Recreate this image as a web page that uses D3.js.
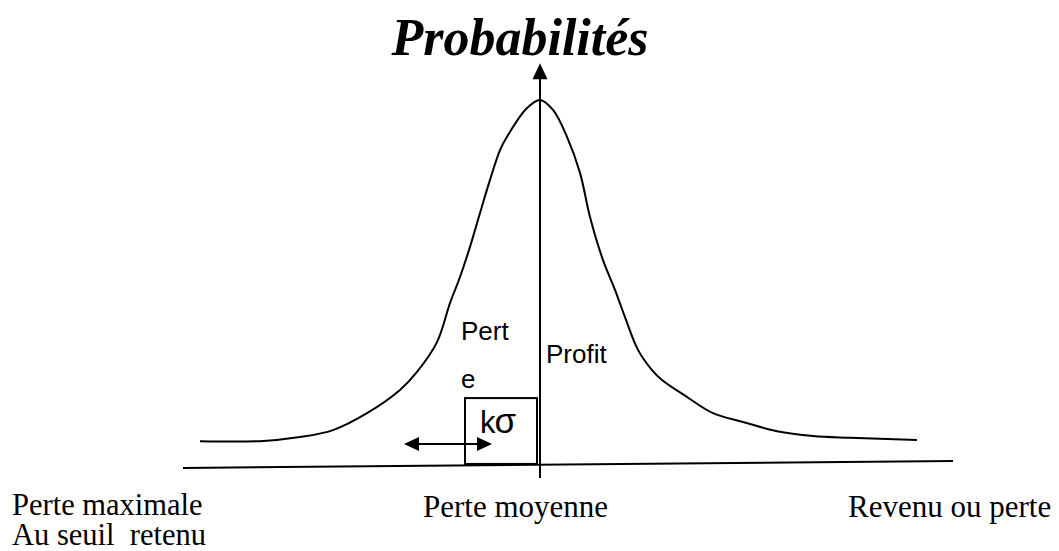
<!DOCTYPE html>
<html>
<head>
<meta charset="utf-8">
<script src="https://cdn.jsdelivr.net/npm/d3@7"></script>
<style>
  html, body { margin: 0; padding: 0; background: #fff; }
  svg { display: block; }
</style>
</head>
<body>
<svg id="chart" width="1059" height="551"></svg>
<script>
// ---- data (revenue units, relative probability) ----
const revenue = [-34, -28, -24, -20.7, -17.3, -14, -12.3, -10.3, -9, -8, -7, -6, -5, -4, -3.3, -1.3, 0,
                 1.3, 2.7, 4, 5, 6.3, 7.5, 8.5, 9.8, 11.2, 12.2, 14.7, 17.3, 20.3, 23.7, 27.3, 31, 37.7];
const probability = [0.073, 0.073, 0.084, 0.103, 0.149, 0.212, 0.261, 0.342, 0.448, 0.519, 0.601, 0.693, 0.783, 0.864, 0.9, 0.978, 1.0,
                     0.973, 0.9, 0.802, 0.682, 0.565, 0.484, 0.41, 0.321, 0.266, 0.239, 0.193, 0.149, 0.125, 0.1, 0.087, 0.082, 0.076];
const axisRevenue = [-35.7, 41.3];
const axisProb = [0, 0.019];
const yAxisProb = [-0.027, 1.1];
const arrowRevenue = [-13.6, -4.8];
const arrowProb = 0.065;
const boxRevenue = [-7.5, -0.3];
const boxProb = [0.011, 0.19];

const titleText = "Probabilités";
const lossLabel = ["Pert", "e"];
const profitLabel = "Profit";
const sigmaLabel = ["k", "σ"];
const leftLabels = ["Perte maximale", "Au seuil  retenu"];
const centerLabel = "Perte moyenne";
const rightLabel = "Revenu ou perte";

// ---- scales ----
const svg = d3.select("#chart");
const x = d3.scaleLinear().domain([-36, 42]).range([180, 960]);
const y = d3.scaleLinear().domain([0, 1]).range([468, 100]);

// horizontal axis (slightly slanted)
svg.append("line")
  .attr("x1", x(axisRevenue[0])).attr("y1", y(axisProb[0]))
  .attr("x2", x(axisRevenue[1])).attr("y2", y(axisProb[1]))
  .attr("stroke", "#000").attr("stroke-width", 2);

// vertical axis with arrow
const yTop = y(yAxisProb[1]);
svg.append("line")
  .attr("x1", x(0)).attr("y1", y(yAxisProb[0]))
  .attr("x2", x(0)).attr("y2", yTop + 10)
  .attr("stroke", "#000").attr("stroke-width", 2);
svg.append("path")
  .attr("d", d3.line()([[x(0), yTop], [x(0) - 7.5, yTop + 16], [x(0) + 7.5, yTop + 16]]) + "Z")
  .attr("fill", "#000");

// distribution curve
const pts = revenue.map((r, i) => [x(r), y(probability[i])]);
svg.append("path")
  .attr("d", d3.line().curve(d3.curveCatmullRom.alpha(0.5))(pts))
  .attr("fill", "none").attr("stroke", "#000").attr("stroke-width", 2);

// k sigma box
svg.append("rect")
  .attr("x", x(boxRevenue[0])).attr("y", y(boxProb[1]))
  .attr("width", x(boxRevenue[1]) - x(boxRevenue[0]))
  .attr("height", y(boxProb[0]) - y(boxProb[1]))
  .attr("fill", "none").attr("stroke", "#000").attr("stroke-width", 2);

// double arrow
const ay = y(arrowProb), ax0 = x(arrowRevenue[0]), ax1 = x(arrowRevenue[1]);
svg.append("line")
  .attr("x1", ax0 + 10).attr("y1", ay).attr("x2", ax1 - 10).attr("y2", ay)
  .attr("stroke", "#000").attr("stroke-width", 2);
svg.append("path")
  .attr("d", d3.line()([[ax0, ay], [ax0 + 15, ay - 7], [ax0 + 15, ay + 7]]) + "Z")
  .attr("fill", "#000");
svg.append("path")
  .attr("d", d3.line()([[ax1, ay], [ax1 - 15, ay - 7], [ax1 - 15, ay + 7]]) + "Z")
  .attr("fill", "#000");

// texts
const sans = "'Liberation Sans', Arial, sans-serif";
const serif = "'Liberation Serif', 'Times New Roman', serif";

svg.append("text")
  .attr("x", 520).attr("y", 55)
  .attr("text-anchor", "middle")
  .attr("font-family", serif)
  .attr("font-weight", "bold").attr("font-style", "italic")
  .attr("font-size", 52)
  .text(titleText);

svg.append("text").attr("x", 461).attr("y", 340)
  .attr("font-family", sans).attr("font-size", 26).text(lossLabel[0]);
svg.append("text").attr("x", 461).attr("y", 388)
  .attr("font-family", sans).attr("font-size", 26).text(lossLabel[1]);
svg.append("text").attr("x", 546).attr("y", 363)
  .attr("font-family", sans).attr("font-size", 26).text(profitLabel);
const ks = svg.append("text").attr("x", 480).attr("y", 433)
  .attr("font-family", sans).attr("font-size", 31);
ks.append("tspan").text(sigmaLabel[0]);
ks.append("tspan").attr("font-size", 35).attr("dx", -1).text(sigmaLabel[1]);

svg.append("text").attr("x", 12).attr("y", 515)
  .attr("font-family", serif).attr("font-size", 30.5).text(leftLabels[0]);
svg.append("text").attr("x", 12).attr("y", 545)
  .attr("font-family", serif).attr("font-size", 30.5)
  .style("white-space", "pre").text(leftLabels[1]);
svg.append("text").attr("x", 423).attr("y", 517)
  .attr("font-family", serif).attr("font-size", 31).text(centerLabel);
svg.append("text").attr("x", 848).attr("y", 517)
  .attr("font-family", serif).attr("font-size", 31).text(rightLabel);
</script>
</body>
</html>
